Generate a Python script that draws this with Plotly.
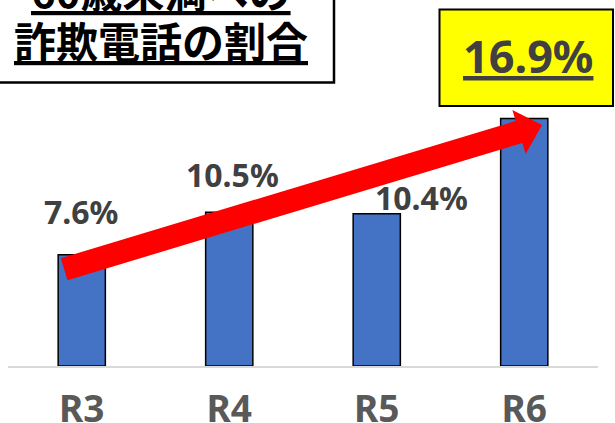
import plotly.graph_objects as go
import math

# ---- data ----
categories = ["R3", "R4", "R5", "R6"]
values = [7.6, 10.5, 10.4, 16.9]
title_lines = ["60歳未満への", "詐欺電話の割合"]

# ---- styling / layout constants (pixels) ----
W, H = 615, 423
ML, MR, MT, MB = 8, 17, 0, 57
PW = W - ML - MR
PH = H - MT - MB

def px_x(px):
    return (px - ML) / PW

def px_y(py):
    return (MT + PH - py) / PH

label_dx = [-1, 3, 45, 4]
label_dy = [43, 38, 16, 63]

fig = go.Figure()
fig.add_trace(go.Bar(
    x=categories, y=values,
    marker=dict(color="#4472C4", line=dict(color="#000000", width=1.5)),
    width=0.32,
    hoverinfo="skip",
))

num_font = "Noto Sans, Open Sans, sans-serif"
cjk_font = "Noto Sans CJK JP, sans-serif"

annotations = []
for i, (c, v) in enumerate(zip(categories, values)):
    last = i == len(values) - 1
    txt = f"<b>{v}%</b>"
    if last:
        txt = f"<b><u>{v}%</u></b>"
    annotations.append(dict(
        x=c, y=v, xref="x", yref="y", text=txt, showarrow=False,
        xanchor="center", yanchor="middle",
        xshift=label_dx[i], yshift=label_dy[i],
        font=dict(family=num_font, size=45 if last else 32, color="#404040"),
    ))

# title (two lines, underlined)
title_centers_y = [-10, 39.5]
for line, cy in zip(title_lines, title_centers_y):
    annotations.append(dict(
        x=px_x(161), y=px_y(cy), xref="paper", yref="paper",
        text=f"<b><u>{line}</u></b>", showarrow=False,
        xanchor="center", yanchor="middle",
        font=dict(family=cjk_font, size=42, color="#000000"),
    ))

shapes = []
# title box
shapes.append(dict(type="rect", xref="paper", yref="paper",
                   x0=px_x(-10), x1=px_x(334), y0=px_y(82.5), y1=px_y(-10),
                   line=dict(color="#000000", width=2.5), fillcolor="#FFFFFF",
                   layer="above"))
# yellow highlight box
shapes.append(dict(type="rect", xref="paper", yref="paper",
                   x0=px_x(439.5), x1=px_x(613), y0=px_y(106), y1=px_y(9.5),
                   line=dict(color="#000000", width=2), fillcolor="#FFFF00",
                   layer="above"))

# red trend arrow (pixel geometry -> paper)
tail = (64.2, 269.2)
tip = (542.0, 125.0)
dx, dy = tip[0] - tail[0], tip[1] - tail[1]
L = math.hypot(dx, dy)
ux, uy = dx / L, dy / L
nx, ny = -uy, ux
sw, hw, hl = 11.5, 23.0, 24.0
bx, by = tip[0] - hl * ux, tip[1] - hl * uy
pts = [
    (tail[0] - sw * nx, tail[1] - sw * ny),
    (bx - sw * nx, by - sw * ny),
    (bx - hw * nx, by - hw * ny),
    tip,
    (bx + hw * nx, by + hw * ny),
    (bx + sw * nx, by + sw * ny),
    (tail[0] + sw * nx, tail[1] + sw * ny),
]
path = "M " + " L ".join(f"{px_x(p[0]):.5f},{px_y(p[1]):.5f}" for p in pts) + " Z"
shapes.append(dict(type="path", xref="paper", yref="paper", path=path,
                   fillcolor="#FF0000", line=dict(width=0), layer="above"))

fig.update_layout(
    width=W, height=H,
    margin=dict(l=ML, r=MR, t=MT, b=MB, pad=0, autoexpand=False),
    plot_bgcolor="#FFFFFF", paper_bgcolor="#FFFFFF",
    showlegend=False,
    annotations=annotations,
    shapes=shapes,
    xaxis=dict(
        type="category", showgrid=False, zeroline=False, automargin=False,
        showline=True, linecolor="#D9D9D9", linewidth=1.5,
        ticks="", ticklabelstandoff=10,
        tickfont=dict(family=num_font, size=37, color="#595959", weight="bold"),
        range=[-0.5, 3.5],
    ),
    yaxis=dict(visible=False, range=[0, 25], showgrid=False, zeroline=False,
               automargin=False),
)

fig.write_html(
    "out.html",
    config={"displayModeBar": False},
    post_script="document.body.style.margin='0';document.body.style.overflow='hidden';",
)
